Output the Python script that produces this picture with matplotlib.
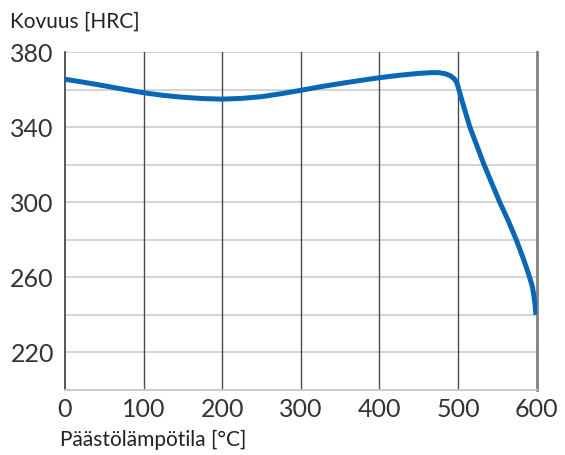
import matplotlib
matplotlib.use("Agg")
import matplotlib.pyplot as plt

# Data
temp = [0, 25, 50, 75, 100, 125, 150, 175, 200, 225, 250, 275, 300, 325, 350, 375,
        400, 425, 450, 465, 475, 483, 490, 495, 498, 500,
        505, 515, 524, 533, 543, 553, 564, 574, 583, 591, 594.5, 596.5, 598, 599]
hardness = [365.5, 363.8, 362, 360.1, 358.3, 356.9, 355.9, 355.2, 354.9, 355.3, 356.2,
            357.8, 359.6, 361.5, 363.2, 364.8, 366.3, 367.6, 368.6, 369.0, 369.0, 368.5,
            367.4, 365.8, 364, 361.5,
            354, 340, 330, 320, 310, 300, 290, 280, 270, 260, 255, 250, 245, 240]
x_ticks = [0, 100, 200, 300, 400, 500, 600]
y_ticks = [220, 260, 300, 340, 380]
y_grid = [220, 240, 260, 280, 300, 320, 340, 360, 380]

plt.rcParams['font.family'] = ['Lato', 'DejaVu Sans']

fig = plt.figure(figsize=(5.65, 4.55), dpi=100)
ax = fig.add_axes([65/565, 1-390/455, (536.7-65)/565, (390-52)/455])

ax.set_xlim(0, 600)
ax.set_ylim(200, 380)

for g in y_grid:
    ax.axhline(g, color='#d0d0d0', lw=1.3, zorder=1)
for v in x_ticks[1:-1]:
    ax.axvline(v, color='#4a4a4a', lw=1.0, zorder=1)

ax.plot(temp, hardness, color='#0a67b5', lw=3.6, solid_capstyle='butt',
        solid_joinstyle='round', zorder=3)

ax.spines['top'].set_visible(False)
ax.spines['bottom'].set_color('#c8c8c8')
ax.spines['bottom'].set_linewidth(1.3)
ax.spines['left'].set_color('#3a3a3a')
ax.spines['left'].set_linewidth(1.2)
ax.spines['right'].set_color('#808080')
ax.spines['right'].set_linewidth(2.0)

ax.set_xticks(x_ticks)
ax.set_yticks(y_ticks)
ax.tick_params(axis='both', length=0, labelsize=18, labelcolor='#333333')
ax.tick_params(axis='x', pad=6)
ax.tick_params(axis='y', pad=8)

fig.text(10/565, 1-22/455, 'Kovuus [HRC]', fontsize=15, color='#222222',
         ha='left', va='center')
fig.text(60/565, 1-440/455, 'Päästölämpötila [°C]', fontsize=15, color='#222222',
         ha='left', va='center')

fig.savefig('out.png', dpi=100)
